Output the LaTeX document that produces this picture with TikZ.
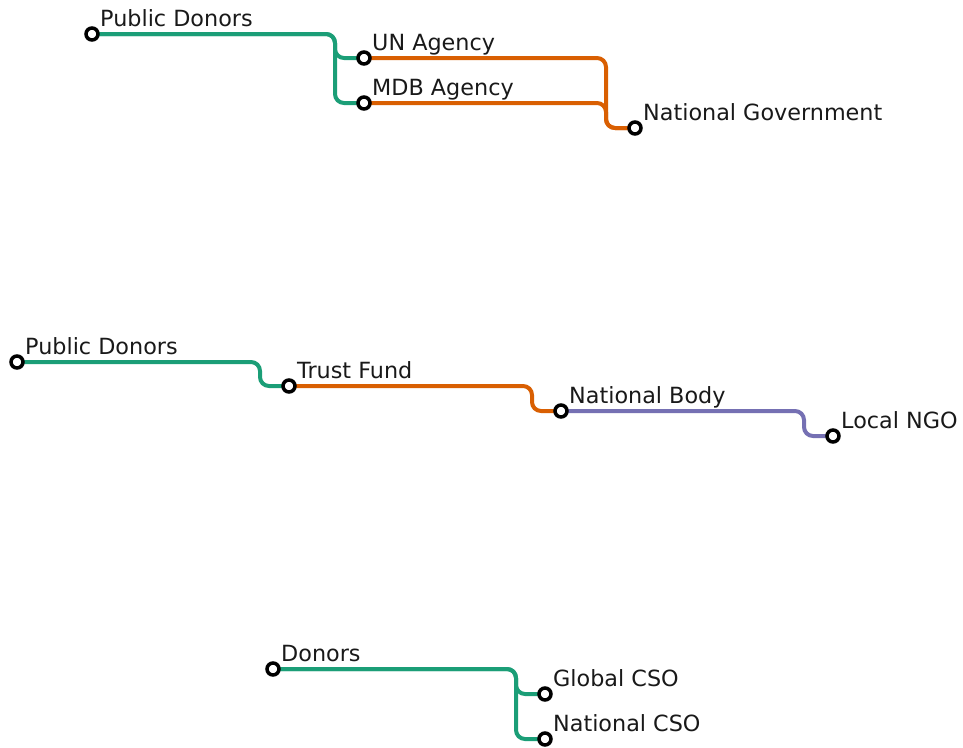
\documentclass[tikz,border=0pt]{standalone}
\usepackage{fontspec}
\setmainfont{DejaVu Sans}
\usetikzlibrary{backgrounds}
\definecolor{lgreen}{HTML}{1B9E77}
\definecolor{lorange}{HTML}{D95F02}
\definecolor{lpurple}{HTML}{7570B3}
\tikzset{
  stn/.style={circle, draw=black, fill=white, line width=3.5pt, minimum size=12pt, inner sep=0pt},
  lbl/.style={anchor=base west, xshift=8pt, yshift=8pt, inner sep=0pt, font=\fontsize{22.3}{26}\selectfont, text=black!90},
  route/.style={line width=4pt, rounded corners=9pt},
}
\begin{document}
\begin{tikzpicture}[x=1pt, y=1pt]
\useasboundingbox (0,0) rectangle (963,-747);

% --- multilateral channel ---
\node[stn] (pd1) at (92,-34) {};
\node[stn] (un)  at (364,-58) {};
\node[stn] (mdb) at (364,-103) {};
\node[stn] (ng)  at (635,-128) {};
\node[lbl] (pd1l) at (pd1) {Public Donors};
\node[lbl] (unl)  at (un)  {UN Agency};
\node[lbl] (mdbl) at (mdb) {MDB Agency};
\node[lbl] (ngl)  at (ng)  {National Government};
\coordinate (s1) at (335,0);
\coordinate (s2) at (606,0);

% --- pooled fund channel ---
\node[stn] (pd2) at (17,-362) {};
\node[stn] (tf)  at (289,-386) {};
\node[stn] (nb)  at (561,-411) {};
\node[stn] (ngo) at (833,-436) {};
\node[lbl] (pd2l) at (pd2) {Public Donors};
\node[lbl] (tfl)  at (tf)  {Trust Fund};
\node[lbl] (nbl)  at (nb)  {National Body};
\node[lbl] (ngol) at (ngo) {Local NGO};
\coordinate (s3) at (260,0);
\coordinate (s4) at (532,0);
\coordinate (s5) at (804,0);

% --- civil society channel ---
\node[stn] (dn)  at (273,-669) {};
\node[stn] (gc)  at (545,-694) {};
\node[stn] (nc)  at (545,-739) {};
\node[lbl] (dnl) at (dn) {Donors};
\node[lbl] (gcl) at (gc) {Global CSO};
\node[lbl] (ncl) at (nc) {National CSO};
\coordinate (s6) at (516,0);

\begin{scope}[on background layer]
  \draw[route, lgreen]  (pd1.center) -| (s1 |- un)  -- (un.center);
  \draw[route, lgreen]  (pd1.center) -| (s1 |- mdb) -- (mdb.center);
  \draw[route, lorange] (un.center)  -| (s2 |- ng)  -- (ng.center);
  \draw[route, lorange] (mdb.center) -| (s2 |- ng)  -- (ng.center);

  \draw[route, lgreen]  (pd2.center) -| (s3 |- tf)  -- (tf.center);
  \draw[route, lorange] (tf.center)  -| (s4 |- nb)  -- (nb.center);
  \draw[route, lpurple] (nb.center)  -| (s5 |- ngo) -- (ngo.center);

  \draw[route, lgreen]  (dn.center) -| (s6 |- gc) -- (gc.center);
  \draw[route, lgreen]  (dn.center) -| (s6 |- nc) -- (nc.center);
\end{scope}
\end{tikzpicture}
\end{document}
